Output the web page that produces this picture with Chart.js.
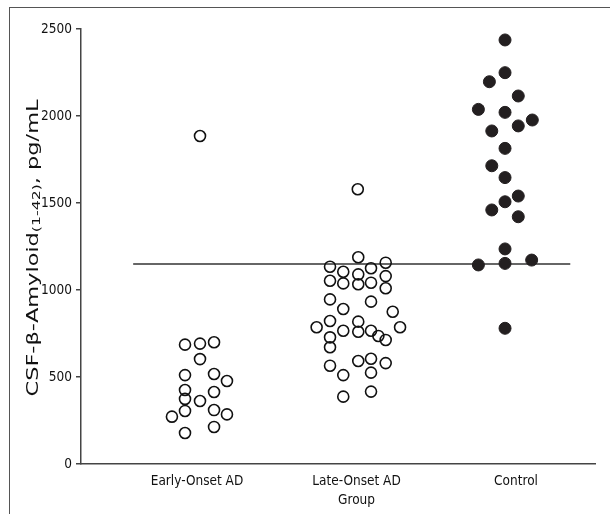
<!DOCTYPE html>
<html>
<head>
<meta charset="utf-8">
<script src="https://cdn.jsdelivr.net/npm/chart.js@4.4.1/dist/chart.umd.min.js"></script>
<style>
  html, body { margin: 0; padding: 0; background: #fff; }
  #wrap { position: relative; width: 610px; height: 514px; }
  #frame { position: absolute; left: 9px; top: 7px; width: 600px; height: 510px;
           border-left: 1.5px solid #555; border-top: 1.5px solid #555; }
  canvas { position: absolute; left: 0; top: 0; }
</style>
</head>
<body>
<div id="wrap">
  <div id="frame"></div>
  <canvas id="grafico" width="610" height="514"></canvas>
</div>
<script>
// Grupos (posições 1, 2, 3 no eixo x)
const grupos = ["Early-Onset AD", "Late-Onset AD", "Control"];
const yTicks = [0, 500, 1000, 1500, 2000, 2500];
const corte = 1150; // linha de corte

// Early-Onset AD (círculos abertos)
const earlyX = [0.925, 1.019, 1.107, 1.019, 0.925, 1.107, 1.188, 0.925, 1.107, 0.925, 1.019, 0.843, 0.925, 1.107, 1.188, 1.107, 0.925, 1.019];
const earlyY = [686, 692, 700, 603, 511, 517, 477, 425, 414, 374, 362, 272, 305, 310, 285, 213, 178, 1885];

// Late-Onset AD (círculos abertos)
const lateX = [2.011, 2.183, 1.834, 1.917, 2.091, 2.011, 2.183, 1.834, 1.917, 2.011, 2.091, 2.183,
               1.834, 1.917, 2.091, 2.227, 1.750, 1.834, 1.917, 2.011, 2.011, 2.091, 2.137, 2.183,
               2.273, 1.834, 1.834, 2.011, 2.091, 2.183, 1.834, 1.917, 2.091, 1.917, 2.091, 2.008];
const lateY = [1188, 1157, 1134, 1105, 1125, 1090, 1080, 1053, 1038, 1033, 1042, 1010,
               946, 891, 933, 875, 786, 822, 766, 818, 760, 766, 736, 713,
               786, 728, 671, 592, 605, 580, 565, 511, 525, 387, 416, 1579];

// Control (círculos cheios)
const ctrlX = [2.931, 2.931, 2.833, 3.014, 2.764, 2.931, 3.102, 3.014, 2.848, 2.931, 2.848,
               2.931, 3.014, 2.931, 2.848, 3.014, 2.931, 2.764, 2.931, 3.098, 2.931];
const ctrlY = [2437, 2249, 2197, 2115, 2038, 2021, 1977, 1943, 1914, 1814, 1714,
               1646, 1540, 1507, 1460, 1421, 1236, 1144, 1153, 1172, 780];

const FONTE = "'DejaVu Sans Condensed', 'Liberation Sans', sans-serif";

function pares(xs, ys) {
  return xs.map((x, i) => ({ x: x, y: ys[i] }));
}

// Títulos dos eixos: y com subscrito (alongado como no original), x "Group" sob o grupo central
const titulos = {
  id: 'titulos',
  afterDraw(chart) {
    const ctx = chart.ctx;
    const partes = [
      { t: "CSF-β-Amyloid", s: 15, dy: 0 },
      { t: "(1-42)", s: 10.5, dy: 3 },
      { t: ", pg/mL", s: 15, dy: 0 }
    ];
    ctx.save();
    let total = 0;
    partes.forEach(p => { ctx.font = p.s + "px " + FONTE; total += ctx.measureText(p.t).width; });
    const comprimento = 297;
    ctx.translate(34, 248);
    ctx.rotate(-Math.PI / 2);
    ctx.scale(comprimento / total, 1);
    ctx.fillStyle = '#111';
    ctx.textBaseline = 'middle';
    let x = -total / 2;
    partes.forEach(p => {
      ctx.font = p.s + "px " + FONTE;
      ctx.fillText(p.t, x, p.dy);
      x += ctx.measureText(p.t).width;
    });
    ctx.restore();

    // "Group" centrado sob o rótulo do meio
    const sx = chart.scales.x;
    ctx.save();
    ctx.font = "13.5px " + FONTE;
    ctx.fillStyle = '#111';
    ctx.textAlign = 'center';
    ctx.textBaseline = 'middle';
    ctx.fillText("Group", sx.getPixelForValue(2), 500);
    ctx.restore();
  }
};

const abertos = {
  pointRadius: 5.5,
  pointHoverRadius: 5.5,
  pointBorderWidth: 1.6,
  pointBorderColor: '#111',
  pointBackgroundColor: 'rgba(0,0,0,0)',
  showLine: false
};

new Chart(document.getElementById('grafico'), {
  type: 'scatter',
  data: {
    datasets: [
      Object.assign({ label: grupos[0], data: pares(earlyX, earlyY) }, abertos),
      Object.assign({ label: grupos[1], data: pares(lateX, lateY) }, abertos),
      {
        label: grupos[2],
        data: pares(ctrlX, ctrlY),
        pointRadius: 6,
        pointHoverRadius: 6,
        pointBorderWidth: 1,
        pointBorderColor: '#231f20',
        pointBackgroundColor: '#231f20',
        showLine: false
      },
      {
        type: 'line',
        label: 'corte',
        data: [{ x: 0.6, y: corte }, { x: 3.34, y: corte }],
        borderColor: '#333',
        borderWidth: 1.5,
        pointRadius: 0,
        order: 1
      }
    ]
  },
  options: {
    responsive: false,
    animation: false,
    devicePixelRatio: 1,
    layout: { padding: { left: 0, top: 29, right: 15, bottom: 0 } },
    plugins: {
      legend: { display: false },
      tooltip: { enabled: false }
    },
    scales: {
      x: {
        type: 'linear',
        min: 0.273,
        max: 3.495,
        afterBuildTicks: s => { s.ticks = [1, 2, 3].map(v => ({ value: v })); },
        afterFit: s => { s.height = 50; },
        ticks: {
          callback: v => grupos[v - 1],
          font: { family: FONTE, size: 13.5 },
          color: '#111',
          padding: 9,
          maxRotation: 0
        },
        grid: { display: false, drawTicks: false },
        border: { display: true, color: '#444', width: 1.5 }
      },
      y: {
        min: 0,
        max: 2500,
        afterBuildTicks: s => { s.ticks = yTicks.map(v => ({ value: v })); },
        afterFit: s => { s.width = 81; },
        ticks: {
          callback: v => String(v),
          font: { family: FONTE, size: 13.5 },
          color: '#111',
          padding: 4
        },
        grid: { display: true, drawOnChartArea: false, tickLength: 5, color: '#444', lineWidth: 1.5 },
        border: { display: true, color: '#444', width: 1.5 }
      }
    }
  },
  plugins: [titulos]
});
</script>
</body>
</html>
